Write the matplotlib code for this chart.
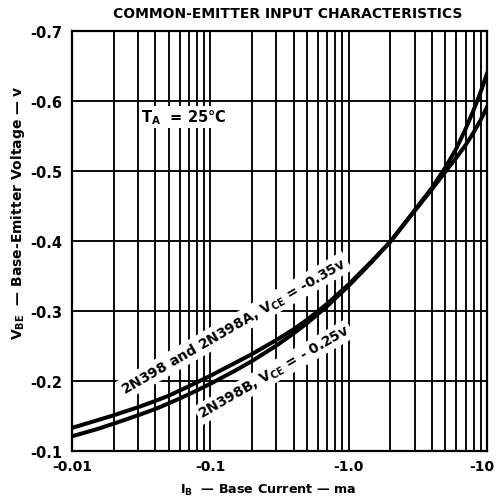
import matplotlib
matplotlib.use("Agg")
import matplotlib.pyplot as plt
from matplotlib.transforms import ScaledTranslation
from matplotlib.ticker import LogLocator, FixedLocator, FixedFormatter, NullFormatter

plt.rcParams["font.family"] = ["DejaVu Sans"]
plt.rcParams["font.weight"] = "bold"
plt.rcParams["mathtext.fontset"] = "custom"
plt.rcParams["mathtext.rm"] = "DejaVu Sans:bold"
plt.rcParams["mathtext.it"] = "DejaVu Sans:bold"
plt.rcParams["mathtext.bf"] = "DejaVu Sans:bold"

# magnitudes: |I_B| in ma, |V_BE| in volts
base_current = [0.01, 0.015, 0.02, 0.03, 0.04, 0.05, 0.07, 0.1, 0.15, 0.2, 0.3, 0.4, 0.5,
                0.7, 1.0, 1.5, 2.0, 3.0, 4.0, 5.0, 6.0, 7.0, 8.0, 9.0, 10.0]
vbe_2n398_a = [0.133, 0.1435, 0.151, 0.1625, 0.1715, 0.179, 0.1925, 0.2075, 0.2255, 0.2385,
               0.2585, 0.274, 0.2875, 0.3105, 0.338, 0.373, 0.399, 0.443, 0.474, 0.499,
               0.519, 0.537, 0.555, 0.573, 0.591]
vbe_2n398b = [0.121, 0.131, 0.139, 0.151, 0.160, 0.168, 0.181, 0.196, 0.2145, 0.2285,
              0.2505, 0.268, 0.2825, 0.307, 0.336, 0.372, 0.399, 0.444, 0.476, 0.505,
              0.532, 0.560, 0.587, 0.613, 0.639]

x_ticks = [0.01, 0.1, 1.0, 10.0]
x_tick_labels = ["-0.01", "-0.1", "-1.0", "-10"]
y_ticks = [0.1, 0.2, 0.3, 0.4, 0.5, 0.6, 0.7]
y_tick_labels = ["-0.1", "-0.2", "-0.3", "-0.4", "-0.5", "-0.6", "-0.7"]

fig = plt.figure(figsize=(4.96, 5.02), dpi=100)
ax = fig.add_axes([72 / 496, 50 / 502, 415 / 496, 420 / 502])

ax.set_xscale("log")
ax.set_xlim(0.01, 10)
ax.set_ylim(0.1, 0.7)

ax.xaxis.set_major_locator(FixedLocator(x_ticks))
ax.xaxis.set_major_formatter(FixedFormatter(x_tick_labels))
ax.xaxis.set_minor_locator(LogLocator(base=10, subs=range(2, 10)))
ax.xaxis.set_minor_formatter(NullFormatter())
ax.yaxis.set_major_locator(FixedLocator(y_ticks))
ax.yaxis.set_major_formatter(FixedFormatter(y_tick_labels))

ax.tick_params(which="both", length=0)
ax.tick_params(axis="x", pad=6, labelsize=10)
ax.tick_params(axis="y", pad=7, labelsize=10.5)

ax.set_axisbelow(True)
ax.grid(True, which="both", axis="x", color="black", linewidth=1.35)
ax.grid(True, which="major", axis="y", color="black", linewidth=1.35)
for sp in ax.spines.values():
    sp.set_linewidth(1.6)

ax.plot(base_current, vbe_2n398_a, color="black", linewidth=2.9, zorder=4)
ax.plot(base_current, vbe_2n398b, color="black", linewidth=2.9, zorder=4)

box = dict(facecolor="white", edgecolor="none", pad=1.5)
ax.text(0.1483, 0.2786, r"2N398 and 2N398A, V$_{CE}$ = -0.35v", rotation=30,
        rotation_mode="anchor", ha="center", va="center", fontsize=10,
        bbox=box, zorder=2)
ax.text(0.2888, 0.2129, r"2N398B, V$_{CE}$ = - 0.25v", rotation=30,
        rotation_mode="anchor", ha="center", va="center", fontsize=10,
        bbox=box, zorder=2)
ax.text(0.0645, 0.577, r"T$_A$  = 25°C", ha="center", va="center", fontsize=10.5,
        bbox=box, zorder=2)

fig.canvas.draw()
last = ax.get_xticklabels()[-1]
last.set_transform(last.get_transform() + ScaledTranslation(-0.05, 0, fig.dpi_scale_trans))

fig.text(288 / 496, 1 - 14 / 502, "COMMON-EMITTER INPUT CHARACTERISTICS",
         ha="center", va="center", fontsize=10)
fig.text(268 / 496, 1 - 490 / 502, r"I$_B$  — Base Current — ma",
         ha="center", va="center", fontsize=9.2)
fig.text(18 / 496, 1 - 213 / 502, r"V$_{BE}$  — Base-Emitter Voltage — v",
         ha="center", va="center", rotation=90, fontsize=10)

fig.savefig("out.png", dpi=100)
